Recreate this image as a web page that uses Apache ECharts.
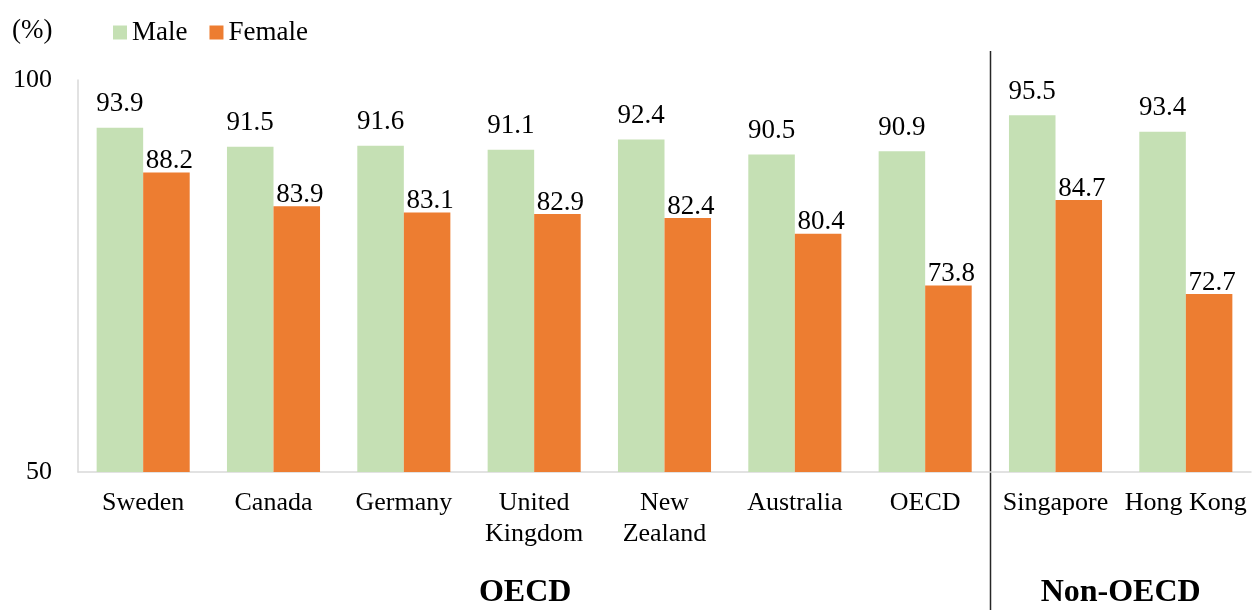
<!DOCTYPE html>
<html>
<head>
<meta charset="utf-8">
<script src="https://cdn.jsdelivr.net/npm/echarts@6/dist/echarts.min.js"></script>
<style>
html,body{margin:0;padding:0;background:#fff;}
#main{width:1252px;height:610px;}
</style>
</head>
<body>
<div id="main"></div>
<script>
const categories = ['Sweden', 'Canada', 'Germany', 'United\nKingdom', 'New\nZealand', 'Australia', 'OECD', 'Singapore', 'Hong Kong'];
const maleValues = [93.9, 91.5, 91.6, 91.1, 92.4, 90.5, 90.9, 95.5, 93.4];
const femaleValues = [88.2, 83.9, 83.1, 82.9, 82.4, 80.4, 73.8, 84.7, 72.7];
const yTicks = [50, 100];
const groupNames = ['OECD', 'Non-OECD'];
const oecdCount = 7;

const FONT = '"Liberation Serif", "Times New Roman", serif';
const chart = echarts.init(document.getElementById('main'));

chart.setOption({
  animation: false,
  textStyle: { fontFamily: FONT },
  legend: {
    left: 108, top: 14,
    itemWidth: 14, itemHeight: 14, itemGap: 22,
    icon: 'rect',
    textStyle: { fontFamily: FONT, fontSize: 27, color: '#000' },
    data: ['Male', 'Female']
  },
  grid: { left: 78, right: 1, top: 80, bottom: 138, containLabel: false },
  xAxis: {
    type: 'category',
    data: categories,
    axisLine: { lineStyle: { color: '#d9d9d9', width: 1.5 } },
    axisTick: { show: false },
    axisLabel: { interval: 0, fontFamily: FONT, fontSize: 26, color: '#000', lineHeight: 31, margin: 16 }
  },
  yAxis: {
    type: 'value',
    min: yTicks[0], max: yTicks[1], interval: yTicks[1] - yTicks[0],
    axisLine: { show: true, lineStyle: { color: '#d9d9d9', width: 1.5 } },
    axisTick: { show: false },
    splitLine: { show: false },
    axisLabel: { fontFamily: FONT, fontSize: 26, color: '#000', margin: 26 }
  },
  series: [
    {
      name: 'Male', type: 'bar', data: maleValues,
      barGap: '0%', barCategoryGap: '28.6%',
      itemStyle: { color: '#C5E0B4' },
      label: { show: true, position: 'top', distance: 10, fontFamily: FONT, fontSize: 27, color: '#000' }
    },
    {
      name: 'Female', type: 'bar', data: femaleValues,
      barGap: '0%', barCategoryGap: '28.6%',
      itemStyle: { color: '#ED7D31' },
      label: { show: true, position: 'top', distance: -2, offset: [3, 0], fontFamily: FONT, fontSize: 27, color: '#000' }
    }
  ]
});

// separator and group titles, positioned from the axis scale
const leftEdge = chart.convertToPixel({ gridIndex: 0 }, [0, 50])[0];
const step = chart.convertToPixel({ xAxisIndex: 0 }, categories[1]) - chart.convertToPixel({ xAxisIndex: 0 }, categories[0]);
const sepX = Math.round(leftEdge - step / 2 + oecdCount * step) + 0.5;
const oecdCenter = leftEdge - step / 2 + (oecdCount * step) / 2 - 9;
const nonCenter = leftEdge - step / 2 + oecdCount * step + ((categories.length - oecdCount) * step) / 2;

chart.setOption({
  graphic: [
    { type: 'text', left: 12, top: 17, style: { text: '(%)', font: '27px ' + FONT, fill: '#000' } },
    { type: 'line', shape: { x1: sepX, y1: 51, x2: sepX, y2: 610 }, style: { stroke: '#262626', lineWidth: 1.5 } },
    { type: 'text', x: oecdCenter, y: 593, style: { text: groupNames[0], font: 'bold 32px ' + FONT, fill: '#000', align: 'center', verticalAlign: 'middle' } },
    { type: 'text', x: nonCenter, y: 593, style: { text: groupNames[1], font: 'bold 32px ' + FONT, fill: '#000', align: 'center', verticalAlign: 'middle' } }
  ]
});
</script>
</body>
</html>
